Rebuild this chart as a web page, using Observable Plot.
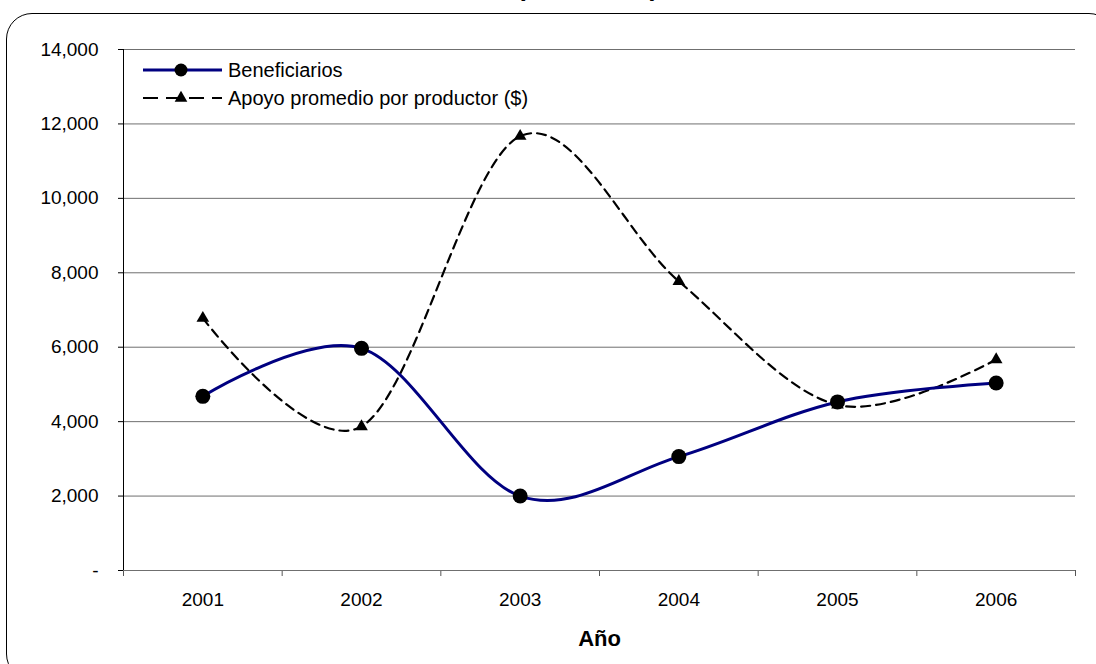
<!DOCTYPE html>
<html>
<head>
<meta charset="utf-8">
<script src="https://cdn.jsdelivr.net/npm/d3@7"></script>
<script src="https://cdn.jsdelivr.net/npm/@observablehq/plot@0.6"></script>
<style>
  body { margin: 0; background: #fff; }
  #wrap { position: relative; width: 1096px; height: 664px; overflow: hidden; background: #fff;
          font-family: "Liberation Sans", Arial, sans-serif; }
  #box { position: absolute; left: 6px; top: 13px; width: 1109px; height: 667px;
         border: 1.5px solid #000; border-radius: 26px; box-sizing: border-box; }
  #title { position: absolute; left: 0; width: 1175px; top: -26px; text-align: center;
           font-weight: bold; font-size: 26px; line-height: 26px; color: #000; }
  #chart { position: absolute; left: 0; top: 0; }
  #legend { position: absolute; left: 143px; top: 56px; font-size: 20px; color: #000; }
  #legend .row { display: flex; align-items: center; height: 28px; }
  #legend svg { margin-right: 5px; }
</style>
</head>
<body>
<div id="wrap">
  <div id="box"></div>
  <div id="title">(2001-2006)</div>
  <div id="chart"></div>
  <div id="legend"></div>
</div>
<script>
// Years on the horizontal axis
const years = [2001, 2002, 2003, 2004, 2005, 2006];
// Number of beneficiaries per year
const beneficiarios = [4680, 5970, 2000, 3060, 4530, 5040];
// Average support per producer ($)
const apoyo = [6780, 3870, 11670, 7770, 4450, 5670];
// Vertical axis ticks
const yTicks = [0, 2000, 4000, 6000, 8000, 10000, 12000, 14000];

const seriesNames = ["Beneficiarios", "Apoyo promedio por productor ($)"];

const benRows = years.map((year, i) => ({year, value: beneficiarios[i]}));
const apoyoRows = years.map((year, i) => ({year, value: apoyo[i]}));
// Category boundaries, where the x tick marks sit
const boundaries = years.map(y => y - 0.5).concat(years[years.length - 1] + 0.5);

const smooth = d3.curveCardinal.tension(0);
const navy = "#000080";

const chart = Plot.plot({
  width: 1096,
  height: 664,
  marginLeft: 123,
  marginRight: 21,
  marginTop: 49,
  marginBottom: 94,
  style: {fontFamily: "'Liberation Sans', Arial, sans-serif", fontSize: "19px", color: "#000", background: "transparent"},
  x: {type: "linear", domain: [boundaries[0], boundaries[boundaries.length - 1]]},
  y: {domain: [0, 14000]},
  marks: [
    Plot.gridY(yTicks, {stroke: "#6f6f6f", strokeOpacity: 1, strokeWidth: 1}),
    Plot.axisY(yTicks, {
      tickSize: 5, tickPadding: 20, label: null, stroke: "#000",
      tickFormat: d => d === 0 ? "-" : d3.format(",")(d)
    }),
    Plot.axisX(boundaries, {tickSize: 6, tickFormat: () => "", label: null, stroke: "#555"}),
    Plot.axisX(years, {tickSize: 0, tickPadding: 22, tickFormat: d => String(d), label: null}),
    Plot.frame({anchor: "left", stroke: "#000"}),
    Plot.ruleY([0], {stroke: "#6f6f6f", strokeWidth: 1.2}),
    Plot.line(apoyoRows, {x: "year", y: "value", curve: smooth, stroke: "#000", strokeWidth: 2.2, strokeDasharray: "9,6"}),
    Plot.dot(apoyoRows, {x: "year", y: "value", symbol: "triangle", r: 4.7, fill: "#000"}),
    Plot.line(benRows, {x: "year", y: "value", curve: smooth, stroke: navy, strokeWidth: 3}),
    Plot.dot(benRows, {x: "year", y: "value", r: 7.5, fill: "#000"}),
    Plot.text(["Año"], {frameAnchor: "bottom", dy: 75, fontWeight: "bold", fontSize: 22, text: d => d})
  ]
});
document.getElementById("chart").appendChild(chart);

// Legend: sample line with marker, then the series name
const legend = d3.select("#legend");
const row1 = legend.append("div").attr("class", "row");
const s1 = row1.append("svg").attr("width", 80).attr("height", 20);
s1.append("line").attr("x1", 0).attr("x2", 79).attr("y1", 10).attr("y2", 10)
  .attr("stroke", navy).attr("stroke-width", 3);
s1.append("circle").attr("cx", 38).attr("cy", 10).attr("r", 6.5).attr("fill", "#000");
row1.append("span").text(seriesNames[0]);

const row2 = legend.append("div").attr("class", "row");
const s2 = row2.append("svg").attr("width", 80).attr("height", 20);
s2.append("line").attr("x1", 0).attr("x2", 79).attr("y1", 10).attr("y2", 10)
  .attr("stroke", "#000").attr("stroke-width", 2.2).attr("stroke-dasharray", "15,8");
s2.append("path").attr("d", d3.symbol(d3.symbolTriangle, Math.PI * 4.7 * 4.7)())
  .attr("transform", "translate(38,10)").attr("fill", "#000");
row2.append("span").text(seriesNames[1]);
</script>
</body>
</html>
